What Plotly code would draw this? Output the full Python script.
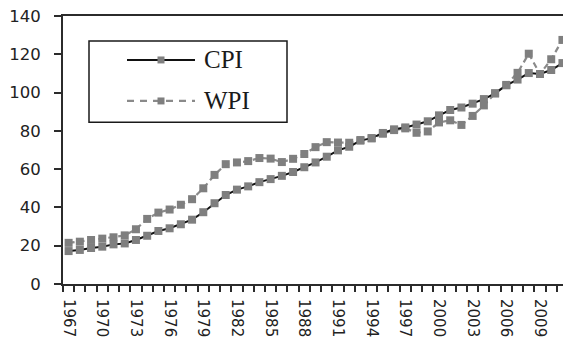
import plotly.graph_objects as go

# Annual index values, 1967-2011
years = list(range(1967, 2012))
cpi = [17.2, 17.8, 18.8, 19.5, 20.7, 21.2, 23.0, 25.2, 27.7, 29.1,
       31.2, 33.6, 37.5, 42.2, 46.5, 49.3, 51.0, 53.2, 54.8, 56.5,
       58.5, 61.0, 63.5, 66.5, 69.8, 71.7, 74.9, 76.2, 78.9, 80.8,
       81.8, 83.3, 85.0, 88.1, 90.9, 92.2, 94.2, 96.6, 99.6, 103.8,
       106.8, 110.2, 109.7, 111.8, 115.4]
wpi = [21.5, 22.1, 23.0, 23.7, 24.4, 25.4, 28.6, 34.0, 37.3, 38.9,
       41.4, 44.3, 50.0, 57.0, 62.6, 63.5, 64.2, 65.8, 65.5, 63.7,
       65.4, 67.9, 71.5, 74.1, 73.9, 73.8, 75.2, 76.1, 78.5, 80.4,
       81.3, 79.0, 79.7, 84.4, 85.5, 83.1, 87.8, 93.3, 99.6, 104.0,
       110.3, 120.3, 109.7, 117.4, 127.5]
label_years = list(range(1967, 2010, 3))
y_ticks = list(range(0, 141, 20))

MARKER_GRAY = "#7f7f7f"
AXIS = "#2b2b2b"

fig = go.Figure()
fig.add_trace(go.Scatter(
    x=years, y=wpi, mode="lines+markers", name="WPI", showlegend=False,
    line=dict(color="#8a8a8a", width=2.2, dash="6px,4px"),
    marker=dict(symbol="square", size=8, color=MARKER_GRAY),
    cliponaxis=False,
))
fig.add_trace(go.Scatter(
    x=years, y=cpi, mode="lines+markers", name="CPI", showlegend=False,
    line=dict(color="#111111", width=2),
    marker=dict(symbol="square", size=8, color=MARKER_GRAY),
    cliponaxis=False,
))

# Hand-drawn legend box (paper coordinates of the plot area)
lx0, lx1 = 0.128, 0.264
shapes = [
    dict(type="rect", xref="paper", yref="paper", x0=0.052, x1=0.448,
         y0=0.604, y1=0.907, line=dict(color="#1a1a1a", width=1.5),
         fillcolor="white", layer="above"),
    dict(type="line", xref="paper", yref="paper", x0=lx0, x1=lx1,
         y0=0.836, y1=0.836, line=dict(color="#111111", width=2)),
    dict(type="line", xref="paper", yref="paper", x0=lx0, x1=lx1,
         y0=0.683, y1=0.683, line=dict(color="#8a8a8a", width=2.2, dash="7px,6px")),
]
for yy in (0.836, 0.683):
    shapes.append(dict(type="rect", xref="paper", yref="paper",
                       x0=0.196 - 0.007, x1=0.196 + 0.007,
                       y0=yy - 0.013, y1=yy + 0.013,
                       line=dict(width=0), fillcolor=MARKER_GRAY))
annotations = [
    dict(text=t, xref="paper", yref="paper", x=0.278, y=yy, xanchor="left",
         yanchor="middle", showarrow=False,
         font=dict(family="Liberation Serif", size=25, color="#1a1a1a"))
    for t, yy in (("CPI", 0.836), ("WPI", 0.683))
]

fig.update_layout(
    width=563, height=340,
    margin=dict(l=63, r=0, t=16, b=56),
    paper_bgcolor="white", plot_bgcolor="white",
    shapes=shapes, annotations=annotations,
    font=dict(family="DejaVu Sans", color="#222222"),
)
fig.update_xaxes(
    range=[1966.5, 2011.05], automargin=False,
    tickmode="array", tickvals=label_years, ticktext=[str(y) for y in label_years],
    tickangle=90, ticks="", ticklabelstandoff=10,
    tickfont=dict(family="DejaVu Sans", size=15, color="#222222"),
    minor=dict(tickmode="linear", tick0=1966.5, dtick=1, ticks="outside",
               ticklen=6, tickwidth=1.5, tickcolor=AXIS, showgrid=False),
    showline=True, linecolor=AXIS, linewidth=2, mirror=True,
    showgrid=False, zeroline=False,
)
fig.update_yaxes(
    range=[0, 140], automargin=False, tickmode="array", tickvals=y_ticks,
    ticks="outside", ticklen=7, tickwidth=1.5, tickcolor=AXIS,
    ticklabelstandoff=10,
    tickfont=dict(family="DejaVu Sans", size=16.5, color="#222222"),
    showline=True, linecolor=AXIS, linewidth=2,
    showgrid=False, zeroline=False,
)

fig.write_html("out.html")
